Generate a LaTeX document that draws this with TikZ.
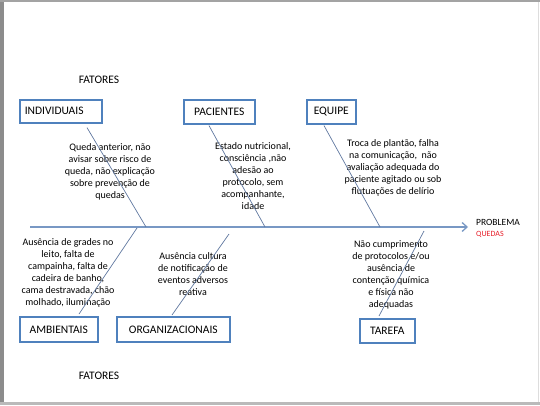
\documentclass[tikz,border=0pt]{standalone}
\usepackage{fontspec}
\setmainfont{Carlito}
\usepackage{tikz}
\usetikzlibrary{positioning,arrows.meta,calc}
\definecolor{fbBlue}{RGB}{79,129,189}
\definecolor{fbBone}{RGB}{96,120,160}
\definecolor{fbSpine}{RGB}{120,152,196}
\definecolor{fbRed}{RGB}{230,30,40}
\definecolor{fbFrame}{RGB}{140,140,140}

\begin{document}
\begin{tikzpicture}[
  x=1pt, y=-1pt,
  font=\fontsize{10}{12}\selectfont,
  cat/.style={draw=fbBlue, line width=1.6pt, fill=white, anchor=north west, inner sep=0pt, font=\fontsize{11.5}{12}\selectfont},
  cause/.style={align=center, inner sep=0pt},
  bone/.style={draw=fbBone, line width=0.7pt},
  spine/.style={draw=fbSpine, line width=1.3pt, -{Straight Barb[length=5pt, width=9pt]}},
]
\useasboundingbox (0,0) rectangle (540,405);
% page frame
\fill[fbFrame] (0,0) rectangle (4,405);
\fill[fbFrame!80] (0,0) rectangle (540,2);
\fill[fbFrame!60] (0,402) rectangle (540,405);
\draw[fbFrame!30] (538,2) -- (538,402);

% spine
\coordinate (tail) at (30,227);
\coordinate (head) at (468,227);
\draw[spine] (tail) -- (head);
\node[anchor=west, font=\fontsize{9.5}{10}\selectfont, inner sep=0pt] (prob) at (476,222) {PROBLEMA};
\node[anchor=west, font=\fontsize{8}{9}\selectfont, text=fbRed, inner sep=0pt] (quedas) at (476,234) {QUEDAS};

\node (fat1) at (99,80) {\fontsize{11.5}{12}\selectfont FATORES};
\node (fat2) at (99,376) {\fontsize{11.5}{12}\selectfont FATORES};

% top boxes
\node[cat, minimum width=82pt, minimum height=23pt, text width=76pt, align=left] (ind) at (19,99) {\hspace*{2pt}INDIVIDUAIS};
\node[cat, minimum width=71pt, minimum height=24pt] (pac) at (183,99) {PACIENTES};
\node[cat, minimum width=49pt, minimum height=24pt] (equ) at (306,99) {EQUIPE};

% bottom boxes
\node[cat, minimum width=78pt, minimum height=25pt] (amb) at (19,316) {AMBIENTAIS};
\node[cat, minimum width=113pt, minimum height=25pt] (org) at (116,316) {ORGANIZACIONAIS};
\node[cat, minimum width=55pt, minimum height=24pt] (tar) at (359,318) {TAREFA};

% causes
\node[cause] (cInd) at (110,172) {Queda anterior, não\\avisar sobre risco de\\queda, não explicação\\sobre prevenção de\\quedas};
\node[cause] (cPac) at (253,176) {Estado nutricional,\\consciência ,não\\adesão ao\\protocolo, sem\\acompanhante,\\idade};
\node[cause] (cEqu) at (393,168) {Troca de plantão, falha\\na comunicação,~ não\\avaliação adequada do\\paciente agitado ou sob\\flutuações de delírio};
\node[cause] (cAmb) at (68,273) {Ausência de grades no\\leito, falta de\\campainha, falta de\\cadeira de banho,\\cama destravada, chão\\molhado, iluminação};
\node[cause] (cOrg) at (193,274) {Ausência cultura\\de notificação de\\eventos adversos\\reativa};
\node[cause] (cTar) at (391,275) {Não cumprimento\\de protocolos e/ou\\ausência de\\contenção química\\e física não\\adequadas};

% bones
\coordinate (sInd) at (146,227);
\coordinate (sPac) at (265,227);
\coordinate (sEqu) at (380,227);
\coordinate (sAmb) at (137,228);
\coordinate (sOrg) at (229,234);
\coordinate (sTar) at (424,231);
\draw[bone] ($(ind.south west)+(68,4)$) -- (sInd);
\draw[bone] ($(pac.south west)+(26,1)$) -- (sPac);
\draw[bone] ($(equ.south west)+(18,1)$) -- (sEqu);
\draw[bone] (sAmb) -- ($(amb.north west)+(60,-2)$);
\draw[bone] (sOrg) -- ($(org.north west)+(56,-1)$);
\draw[bone] (sTar) -- ($(tar.north west)+(20,-2)$);
\end{tikzpicture}
\end{document}
